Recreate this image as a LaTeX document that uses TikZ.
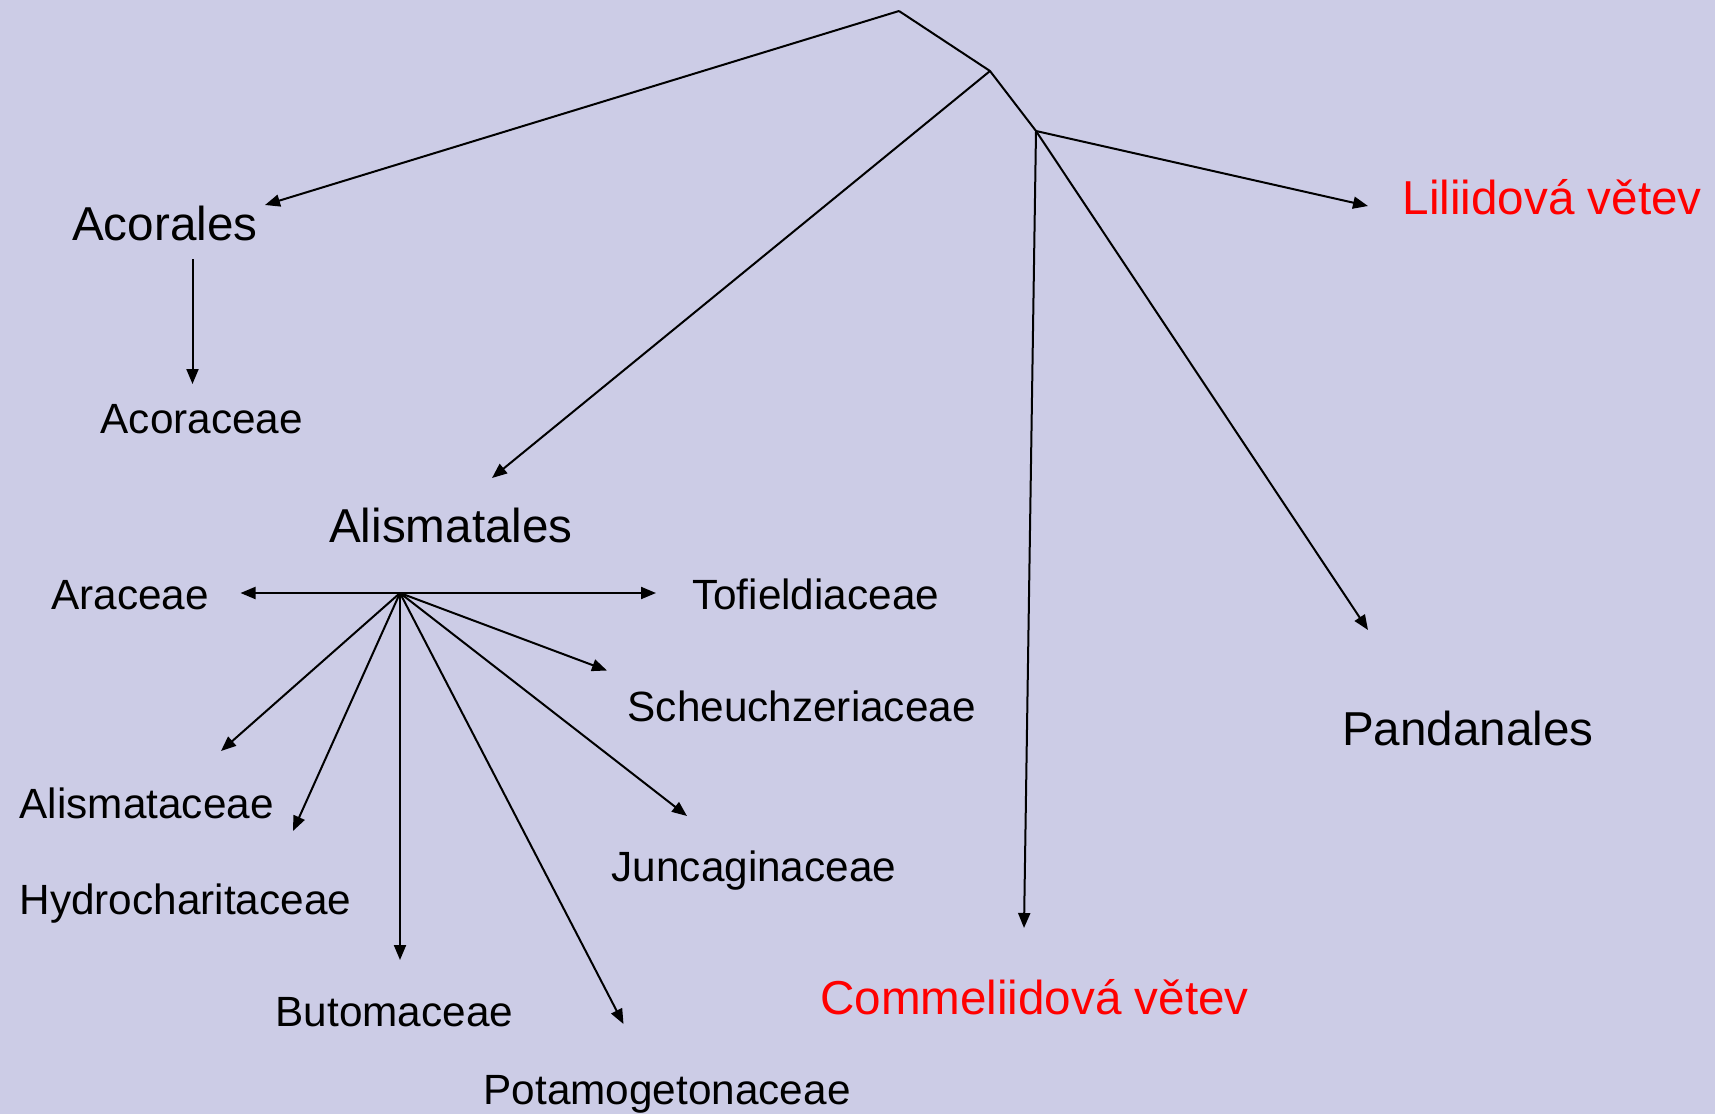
\documentclass[tikz,border=0pt]{standalone}
\usepackage{fontspec}
\setmainfont{Liberation Sans}
\usetikzlibrary{arrows.meta}
\definecolor{bgc}{RGB}{204,204,230}
\definecolor{redc}{RGB}{255,0,0}
\tikzset{
  big/.style={anchor=base west,inner sep=0pt,font=\fontsize{47.6}{56}\selectfont},
  small/.style={anchor=base west,inner sep=0pt,font=\fontsize{42.3}{50}\selectfont},
  redtxt/.style={text=redc},
  edge/.style={draw=black,line width=2pt},
  arr/.style={edge,-{Triangle[length=15pt,width=12pt]}},
}
\begin{document}
\begin{tikzpicture}[x=1pt,y=-1pt]
\fill[bgc] (0,0) rectangle (1715,1114);
\useasboundingbox (0,0) rectangle (1715,1114);
% labels
\node[big] (acorales) at (72,240.5) {Acorales};
\node[small] (acoraceae) at (100.5,433) {Acoraceae};
\node[big] (alismatales) at (329,542.5) {Alismatales};
\node[small] (araceae) at (51,609) {Araceae};
\node[small] (tofiel) at (692,609) {Tofieldiaceae};
\node[small] (scheu) at (627.5,721.5) {Scheuchzeriaceae};
\node[small] (alismataceae) at (19.5,818) {Alismataceae};
\node[small] (juncag) at (611.5,881.5) {Juncaginaceae};
\node[small] (hydro) at (19.5,914) {Hydrocharitaceae};
\node[small] (butom) at (275.5,1026) {Butomaceae};
\node[small] (potam) at (483.5,1104) {Potamogetonaceae};
\node[big,redtxt] (commel) at (820,1014.5) {Commeliidová větev};
\node[big] (pandan) at (1342,745) {Pandanales};
\node[big,redtxt] (liliid) at (1402.5,214) {Liliidová větev};
% junctions
\coordinate (apex) at (899,11);
\coordinate (j2) at (990,71);
\coordinate (j3) at (1036,131);
\coordinate (hub) at (400,593);
% arrow ends
\coordinate (tAcorales) at (265,205);
\coordinate (sAcor) at (192.5,259);
\coordinate (tAcoraceae) at (192.5,384);
\coordinate (tAlis) at (492,478);
\coordinate (tLili) at (1368,206);
\coordinate (tComm) at (1024,928);
\coordinate (tPand) at (1368,630);
\coordinate (tArac) at (240.5,593);
\coordinate (tTofi) at (656,593);
\coordinate (tScheu) at (607,670.5);
\coordinate (tJunc) at (687,816);
\coordinate (tPotam) at (623.5,1024);
\coordinate (tButom) at (400,960);
\coordinate (tHydro) at (293,831);
\coordinate (tAlisc) at (221,751);
% tree
\draw[edge,line join=miter] (apex) -- (j2) -- (j3);
\draw[arr] (apex) -- (tAcorales);
\draw[arr] (sAcor) -- (tAcoraceae);
\draw[arr] (j2) -- (tAlis);
\draw[arr] (j3) -- (tLili);
\draw[arr] (j3) -- (tComm);
\draw[arr] (j3) -- (tPand);
\draw[arr] (hub) -- (tArac);
\draw[arr] (hub) -- (tTofi);
\draw[arr] (hub) -- (tScheu);
\draw[arr] (hub) -- (tJunc);
\draw[arr] (hub) -- (tPotam);
\draw[arr] (hub) -- (tButom);
\draw[arr] (hub) -- (tHydro);
\draw[arr] (hub) -- (tAlisc);
\end{tikzpicture}
\end{document}
